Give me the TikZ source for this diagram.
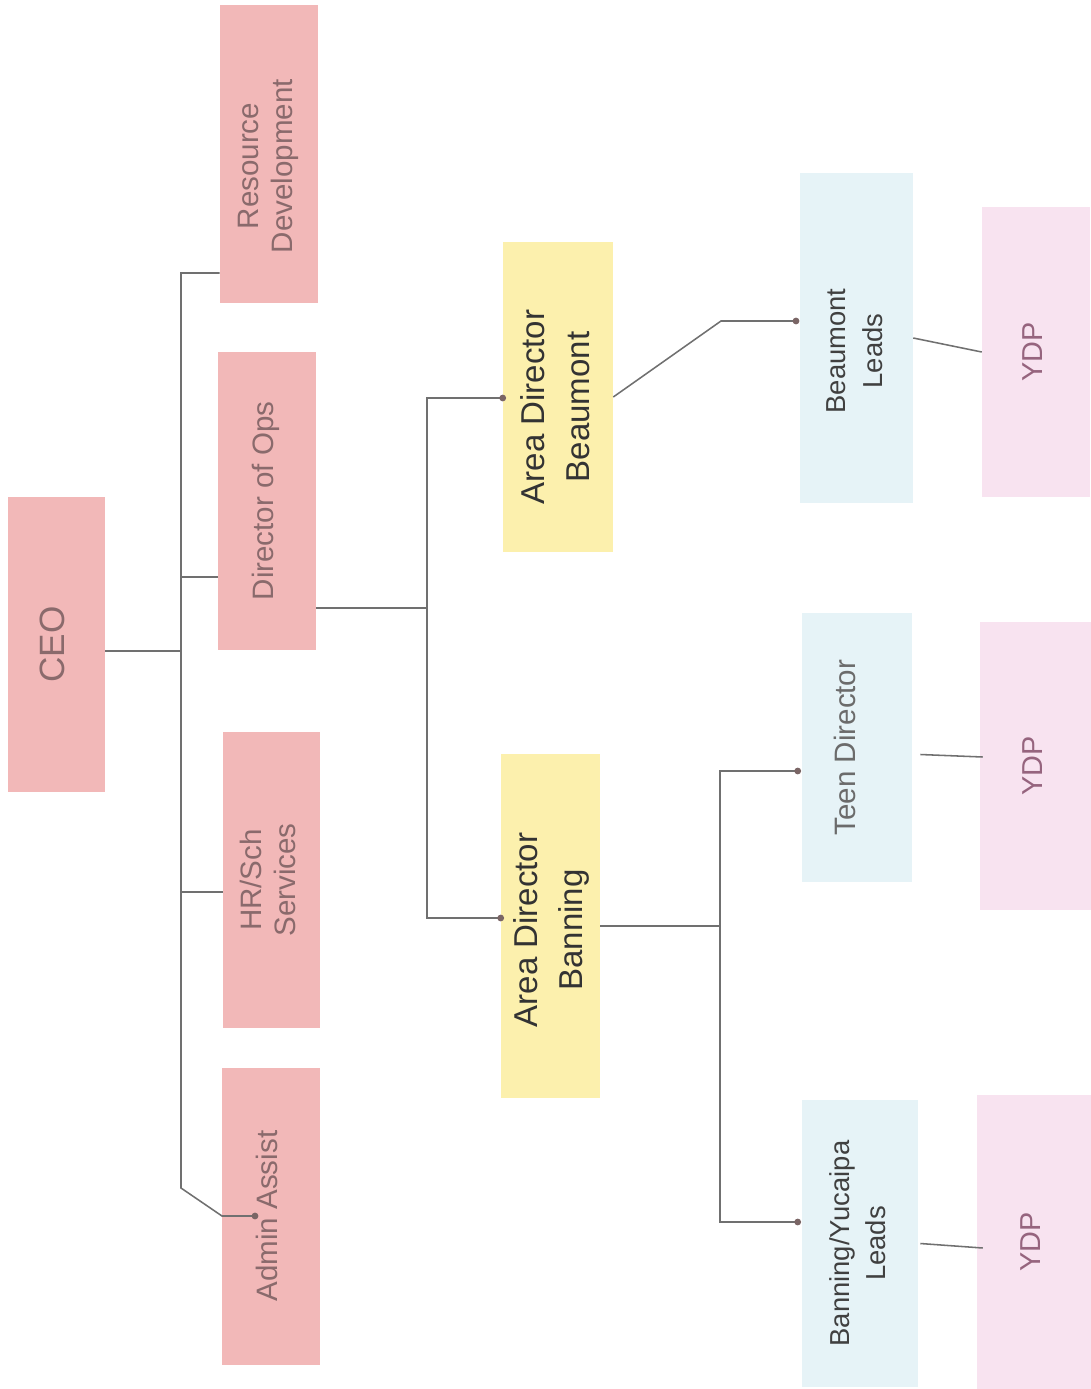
\documentclass[tikz,border=0pt]{standalone}
\usepackage{fontspec}
\setmainfont{Liberation Sans}
\setsansfont{Liberation Sans}
\usepackage{graphicx}
\usetikzlibrary{calc}
\tikzset{every picture/.style={/utils/exec={\sffamily}}}
\definecolor{rosy}{HTML}{F2B8B8}
\definecolor{rosytext}{HTML}{8A6A6C}
\definecolor{sand}{HTML}{FCF0AD}
\definecolor{ice}{HTML}{E6F3F7}
\definecolor{lilac}{HTML}{F8E3F0}
\definecolor{lilactext}{HTML}{96647E}
\definecolor{wire}{HTML}{707070}
\definecolor{pin}{HTML}{7A6565}
\tikzset{
  box/.style 2 args={rectangle, inner sep=0pt, minimum width=#1*0.025cm, minimum height=#2*0.025cm},
  pinkbox/.style={fill=rosy, text=rosytext, font=\fontsize{21}{24}\selectfont},
  areabox/.style={fill=sand, text=black!80, font=\fontsize{23.5}{32}\selectfont},
  leadbox/.style={fill=ice, text=black!75, font=\fontsize{19.5}{26}\selectfont},
  ydpbox/.style={fill=lilac, text=lilactext, font=\fontsize{20.5}{24}\selectfont},
  link/.style={draw=wire, line width=1.1pt},
  dot/.style={circle, fill=pin, inner sep=0pt, minimum size=0.17cm}
}
\newcommand{\vtext}[2][]{\rotatebox{90}{\begin{tabular}{@{}c@{}}#2\end{tabular}#1}}

\begin{document}
\begin{tikzpicture}[x=0.025cm, y=-0.025cm]
    \useasboundingbox (0,0) rectangle (1091,1389);
    \node [pinkbox, box={97}{295}, font=\fontsize{25}{30}\selectfont] (ceo) at (56.5,644.5) {\vtext{CEO}};
    \node [pinkbox, box={98}{298}] (rd) at (269,154) {\vtext[\kern0.6cm]{Resource\\Development}};
    \node [pinkbox, box={98}{298}] (ops) at (267,501) {\vtext{Director of Ops}};
    \node [pinkbox, box={97}{296}] (hr) at (271.5,880) {\vtext{HR/Sch\\Services}};
    \node [pinkbox, box={98}{297}] (aa) at (271,1216) {\vtext{Admin Assist}};
    \node [areabox, box={110}{310}] (adbea) at (558,397) {\vtext[\kern0.5cm]{Area Director\\Beaumont}};
    \node [areabox, box={99}{344}] (adban) at (550.5,926) {\vtext[\kern0.2cm]{Area Director\\Banning}};
    \node [leadbox, box={113}{330}] (bl) at (856.5,338) {\vtext[\kern0.65cm]{Beaumont\\Leads}};
    \node [leadbox, box={110}{269}, text=black!58, font=\fontsize{21}{25}\selectfont] (td) at (857,747.5)
        {\rotatebox{90}{\raisebox{0.3cm}[\height][\depth]{Teen Director}}};
    \node [leadbox, box={116}{287}] (byl) at (860,1243.5) {\vtext{Banning/Yucaipa\\Leads}};
    \node [ydpbox, box={108}{290}] (ydp1) at (1036,352) {\vtext{YDP}};
    \node [ydpbox, box={111}{288}] (ydp2) at (1035.5,766) {\vtext{YDP}};
    \node [ydpbox, box={114}{294}] (ydp3) at (1034,1242) {\vtext{YDP}};

    \coordinate (hub) at (181,651);
    \coordinate (t1) at (181,273);
    \coordinate (t2) at (181,577);
    \coordinate (t3) at (181,892);
    \coordinate (t4) at (181,1188);
    \coordinate (t5) at (222,1216);
    \coordinate (aadot) at (255,1216);
    \draw [link] (ceo.east |- hub) -- (hub);
    \draw [link] (rd.west |- t1) -- (t1) -- (t4) -- (t5) -- (aadot) node [dot] {};
    \draw [link] (t2) -- (ops.west |- t2);
    \draw [link] (t3) -- (hr.west |- t3);

    \coordinate (o1) at (427,608);
    \coordinate (o2) at (427,398);
    \coordinate (o3) at (427,918);
    \draw [link] (ops.east |- o1) -- (o1);
    \draw [link] (adbea.west |- o2) node [dot] {} -- (o2) -- (o3) -- (adban.west |- o3) node [dot] {};

    \coordinate (b1) at (721,321);
    \coordinate (b2) at (796,321);
    \draw [link] (adbea.east) -- (b1) -- (b2) node [dot] {};

    \coordinate (c0) at (720,926);
    \coordinate (c1) at (720,771);
    \coordinate (c2) at (720,1222);
    \draw [link] (adban.east) -- (c0);
    \draw [link] ([xshift=-0.1cm]td.west |- c1) node [dot] {} -- (c1) -- (c2) -- ([xshift=-0.1cm]byl.west |- c2) node [dot] {};

    \draw [link] (bl.east) -- (ydp1.west);
    \draw [link] ([shift={(8,7)}]td.east) -- ([shift={(3,-9)}]ydp2.west);
    \draw [link] ([shift={(2,0)}]byl.east) -- ([shift={(6,6)}]ydp3.west);
\end{tikzpicture}
\end{document}
